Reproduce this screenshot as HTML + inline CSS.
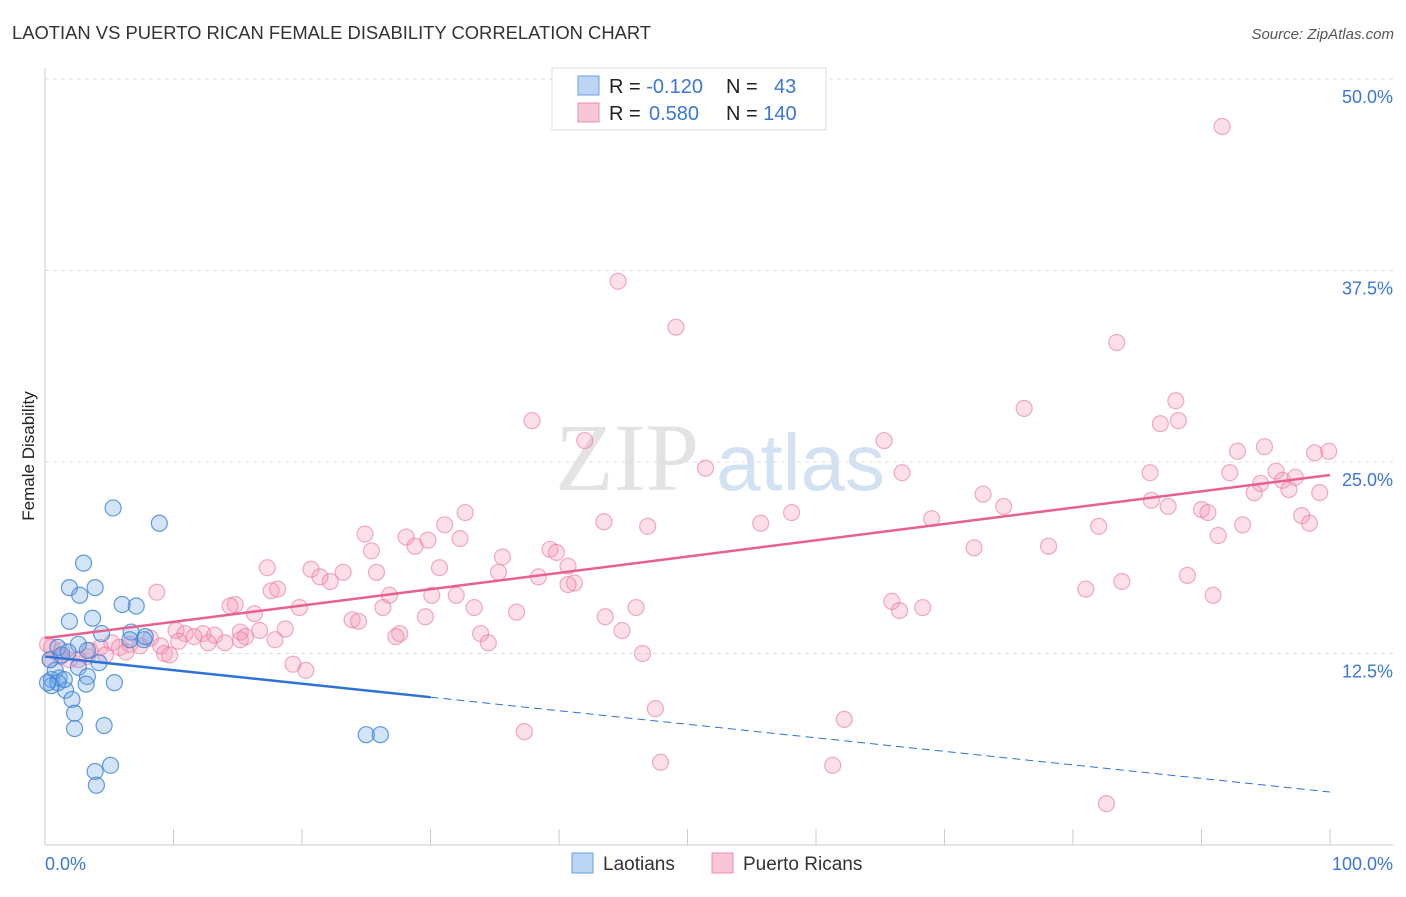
<!DOCTYPE html>
<html><head><meta charset="utf-8"><style>
body{margin:0;background:#fff;font-family:"Liberation Sans",sans-serif}
</style></head><body>
<svg id="chart" width="1406" height="892" xmlns="http://www.w3.org/2000/svg" style="font-family:'Liberation Sans',sans-serif">
<text x="12" y="39" font-size="18.4" fill="#333">LAOTIAN VS PUERTO RICAN FEMALE DISABILITY CORRELATION CHART</text>
<text x="1394" y="39" font-size="15" fill="#555" font-style="italic" text-anchor="end">Source: ZipAtlas.com</text>
<text transform="translate(34,456) rotate(-90)" font-size="17" fill="#222" text-anchor="middle">Female Disability</text>
<g><text x="555" y="490" font-size="96" fill="#ddd" font-family="Liberation Serif,serif" opacity="0.8">ZIP</text><text x="716" y="490" font-size="80" fill="#c8dcf0" opacity="0.8">atlas</text></g>
<g id="grid"></g><g id="axes"></g><g id="marks"></g>
<g>
<rect x="552" y="68" width="274" height="62" fill="#fff" stroke="#ddd"/>
<rect x="578" y="76" width="21" height="19" fill="#bcd5f5" stroke="#6a9ee0"/>
<rect x="578" y="103" width="21" height="19" fill="#f9c6d6" stroke="#e890ae"/>
<text x="609" y="93" font-size="20" fill="#222">R = <tspan fill="#3a78d4">-0.120</tspan></text>
<text x="726" y="93" font-size="20" fill="#222">N = <tspan fill="#3a78d4" x="774">43</tspan></text>
<text x="609" y="120" font-size="20" fill="#222">R = <tspan fill="#3a78d4" x="649">0.580</tspan></text>
<text x="726" y="120" font-size="20" fill="#222">N = <tspan fill="#3a78d4">140</tspan></text>
</g>
<g>
<rect x="572" y="853" width="21" height="20" fill="#bcd5f5" stroke="#6a9ee0"/>
<text x="603" y="870" font-size="19" fill="#333">Laotians</text>
<rect x="712" y="853" width="21" height="20" fill="#f9c6d6" stroke="#e890ae"/>
<text x="743" y="870" font-size="19" fill="#333">Puerto Ricans</text>
</g>
</svg>
<script>
const blueX=[5.3,8.9,3.0,1.9,3.9,2.7,6.0,7.1,1.9,3.7,4.4,6.7,7.7,2.6,1.0,4.2,2.6,0.5,1.1,3.3,5.4,3.2,1.6,2.1,2.3,2.3,4.6,25.0,26.1,5.1,3.9,4.0,0.8,0.4,1.3,1.8,0.5,1.0,0.2,1.5,3.3,6.6,7.8];
const blueY=[22.0,21.0,18.4,16.8,16.8,16.3,15.7,15.6,14.6,14.8,13.8,13.9,13.4,13.1,12.9,11.9,11.6,10.8,10.9,11.0,10.6,10.5,10.1,9.5,8.6,7.6,7.8,7.2,7.2,5.2,4.8,3.9,11.4,12.1,12.4,12.6,10.4,10.6,10.6,10.8,12.7,13.4,13.6];
const pinkX=[91.6,44.6,49.1,83.4,88.0,76.2,37.9,86.8,88.2,42.0,65.3,94.9,92.8,98.8,99.9,51.4,66.7,86.0,92.2,95.8,96.3,97.3,94.6,94.1,96.8,99.2,73.0,86.1,87.4,74.6,90.0,90.5,32.7,58.1,43.5,46.9,55.7,69.0,97.8,98.4,93.2,82.0,31.1,24.9,28.1,29.8,32.3,91.3,72.3,78.1,39.3,39.8,25.4,35.6,28.8,17.3,20.7,21.4,23.2,22.2,25.8,35.3,30.7,40.7,38.4,41.2,40.7,18.1,17.6,83.8,88.9,81.0,8.7,26.8,30.1,32.0,90.9,65.9,14.8,14.4,19.8,26.3,33.4,36.7,68.3,66.5,46.0,43.6,16.3,23.9,24.4,29.6,44.9,10.2,10.9,12.3,13.2,11.6,15.2,16.7,18.7,27.6,27.3,33.9,34.5,8.2,5.2,5.8,6.6,7.4,9.0,10.4,12.7,14.0,15.6,4.3,4.7,3.3,2.6,1.9,1.2,0.5,0.2,0.4,9.3,9.7,6.3,46.5,19.3,20.3,47.5,62.2,37.3,47.9,61.3,82.6,1.3,3.5,15.2,17.9];
const pinkY=[46.9,36.8,33.8,32.8,29.0,28.5,27.7,27.5,27.7,26.4,26.4,26.0,25.7,25.6,25.7,24.6,24.3,24.3,24.3,24.4,23.8,24.0,23.6,23.0,23.2,23.0,22.9,22.5,22.1,22.1,21.9,21.7,21.7,21.7,21.1,20.8,21.0,21.3,21.5,21.0,20.9,20.8,20.9,20.3,20.1,19.9,20.0,20.2,19.4,19.5,19.3,19.1,19.2,18.8,19.5,18.1,18.0,17.5,17.8,17.2,17.8,17.8,18.1,18.2,17.5,17.1,17.0,16.7,16.6,17.2,17.6,16.7,16.5,16.3,16.3,16.3,16.3,15.9,15.7,15.6,15.5,15.5,15.5,15.2,15.5,15.3,15.5,14.9,15.1,14.7,14.6,14.9,14.0,14.0,13.8,13.8,13.7,13.6,13.9,14.0,14.1,13.8,13.6,13.8,13.2,13.5,13.2,12.9,13.1,13.0,13.0,13.3,13.2,13.2,13.6,12.9,12.4,12.3,12.1,12.1,12.3,12.9,13.1,12.1,12.5,12.4,12.6,12.5,11.8,11.4,8.9,8.2,7.4,5.4,5.2,2.7,12.7,12.7,13.4,13.4];
const yTicks=[12.5,25,37.5,50];
const xTickLabels=["0.0%","100.0%"];
const blueTrend=[12.3,3.46];
const pinkTrend=[13.5,24.15];
const blueSolidEnd=30;

const X0=45,X1=1330,Y0=845,PXY=15.32;
const sx=v=>X0+(X1-X0)*v/100, sy=v=>Y0-v*PXY;
const NS="http://www.w3.org/2000/svg";
function mk(tag,attrs,parent){const e=document.createElementNS(NS,tag);for(const k in attrs)e.setAttribute(k,attrs[k]);parent.appendChild(e);return e;}
const grid=document.getElementById('grid'),axes=document.getElementById('axes'),marks=document.getElementById('marks');
yTicks.forEach(t=>{
  const l=mk('line',{x1:X0,x2:1393,y1:sy(t),y2:sy(t),stroke:'#ddd','stroke-dasharray':'4,4'},grid);
  
  
  const tx=mk('text',{x:1393,y:sy(t)+24,'font-size':18,fill:'#3a78d4','text-anchor':'end'},grid);
  tx.textContent=t.toFixed(1)+'%';
  
  
});
const ax=mk('line',{x1:X0,x2:1393,y1:Y0,y2:Y0,stroke:'#ccc'},axes);


const ay=mk('line',{x1:X0,x2:X0,y1:68,y2:Y0,stroke:'#ccc'},axes);


for(let i=0;i<=10;i++){const t=mk('line',{x1:sx(i*10),x2:sx(i*10),y1:Y0,y2:Y0-16,stroke:'#ccc'},axes);
  
  }
const xl0=mk('text',{x:45,y:870,'font-size':18,fill:'#3a78d4'},axes);xl0.textContent=xTickLabels[0];


const xl1=mk('text',{x:1393,y:870,'font-size':18,fill:'#3a78d4','text-anchor':'end'},axes);xl1.textContent=xTickLabels[1];



pinkX.forEach((x,i)=>{const c=mk('circle',{cx:sx(x),cy:sy(pinkY[i]),r:8,fill:'rgba(244,150,180,0.3)',stroke:'rgba(232,120,160,0.6)','stroke-width':1.2},marks);
  
  });
blueX.forEach((x,i)=>{const c=mk('circle',{cx:sx(x),cy:sy(blueY[i]),r:8,fill:'rgba(110,165,230,0.3)',stroke:'rgba(60,130,215,0.8)','stroke-width':1.2},marks);
  
  });
const by=v=>blueTrend[0]+(blueTrend[1]-blueTrend[0])*v/100;
const b1=mk('line',{x1:sx(0),y1:sy(by(0)),x2:sx(blueSolidEnd),y2:sy(by(blueSolidEnd)),stroke:'#2f72d6','stroke-width':2.5},marks);


const b2=mk('line',{x1:sx(blueSolidEnd),y1:sy(by(blueSolidEnd)),x2:sx(100),y2:sy(by(100)),stroke:'#2f72d6','stroke-width':1,'stroke-dasharray':'8,5'},marks);


const p1=mk('line',{x1:sx(0),y1:sy(pinkTrend[0]),x2:sx(100),y2:sy(pinkTrend[1]),stroke:'#e8608f','stroke-width':2.5},marks);


</script>
</body></html>
